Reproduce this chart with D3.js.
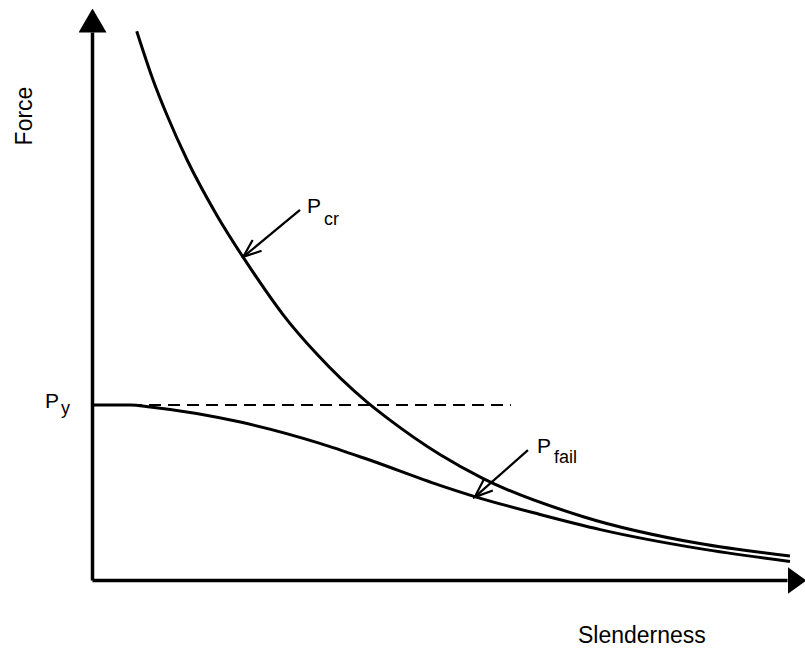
<!DOCTYPE html>
<html lang="en">

<head>
  <meta charset="utf-8">
  <title>Force vs slenderness</title>
  <script src="https://d3js.org/d3.v7.min.js"></script>
  <style>
    body {
      margin: 0;
      background: #fff;
    }

    .curve {
      fill: none;
      stroke: #000;
      stroke-width: 3px;
    }

    .squash {
      fill: none;
      stroke: #000;
      stroke-width: 2px;
      stroke-dasharray: 12 7;
    }

    .pointer {
      fill: none;
      stroke: #000;
      stroke-width: 2.2px;
    }

    .axis .domain {
      stroke: #000;
      stroke-width: 3.5px;
    }

    text {
      font-family: "Liberation Sans", Arial, sans-serif;
      fill: #000;
    }
  </style>
</head>

<body>

  <script type="text/javascript">
  var width = 805;
  var height = 648;

  // slenderness (arbitrary units) and force
  var crSlender = [0.63, 0.86, 1.06, 1.34, 1.76, 2.23, 2.69, 3.17, 3.87, 4.16, 4.90, 5.51, 6.92, 8.56, 9.83];
  var crForce   = [9.80, 8.93, 8.29, 7.50, 6.51, 5.57, 4.74, 4.03, 3.18, 2.89, 2.24, 1.81, 1.13, 0.65, 0.43];

  var failSlender = [0, 0.54, 0.82, 2.09, 3.21, 3.87, 4.90, 5.39, 6.31, 7.16, 8.56, 9.83];
  var failForce   = [3.125, 3.125, 3.09, 2.82, 2.44, 2.16, 1.69, 1.49, 1.17, 0.90, 0.56, 0.33];

  var squashLoad = 3.125;   // P_y
  var squashEnd = 5.9;      // dashed line stops here

  // annotation pointers: [fromX, fromY, toX, toY]
  var crPointer = [2.93, 6.61, 2.13, 5.77];
  var failPointer = [6.14, 2.32, 5.39, 1.48];

  var x = d3.scaleLinear().domain([0, 10]).range([92, 802]);
  var y = d3.scaleLinear().domain([0, 10]).range([580, 20]);

  var svg = d3.select("body").append("svg")
    .attr("width", width)
    .attr("height", height);

  var defs = svg.append("defs");

  // solid arrowheads for the axes
  defs.append("marker")
    .attr("id", "headX")
    .attr("markerUnits", "userSpaceOnUse")
    .attr("viewBox", "0 -14 19 28")
    .attr("markerWidth", 19)
    .attr("markerHeight", 28)
    .attr("refX", 0).attr("refY", 0)
    .attr("orient", "auto")
    .append("path")
    .attr("d", "M0,-13.5L19,0L0,13.5Z")
    .attr("fill", "#000");

  defs.append("marker")
    .attr("id", "headY")
    .attr("markerUnits", "userSpaceOnUse")
    .attr("viewBox", "0 -14 24 28")
    .attr("markerWidth", 24)
    .attr("markerHeight", 28)
    .attr("refX", 0).attr("refY", 0)
    .attr("orient", "auto")
    .append("path")
    .attr("d", "M0,-14L24,0L0,14Z")
    .attr("fill", "#000");

  // open chevron for the label pointers
  defs.append("marker")
    .attr("id", "chevron")
    .attr("markerUnits", "userSpaceOnUse")
    .attr("viewBox", "-20 -10 22 20")
    .attr("markerWidth", 22)
    .attr("markerHeight", 20)
    .attr("refX", 0).attr("refY", 0)
    .attr("orient", "auto")
    .append("path")
    .attr("d", "M-18,-7L0,0L-18,7")
    .attr("fill", "none")
    .attr("stroke", "#000")
    .attr("stroke-width", 2.2);

  // axes: no ticks, just the spines with arrows
  var xAxisScale = x.copy().range([92, 787]);
  var yAxisScale = y.copy().range([580, 32]);

  svg.append("g")
    .attr("class", "axis")
    .attr("transform", "translate(0," + y(0) + ")")
    .call(d3.axisBottom(xAxisScale).tickValues([]).tickSizeOuter(0))
    .select(".domain")
    .attr("marker-end", "url(#headX)");

  svg.append("g")
    .attr("class", "axis")
    .attr("transform", "translate(" + x(0) + ",0)")
    .call(d3.axisLeft(yAxisScale).tickValues([]).tickSizeOuter(0))
    .select(".domain")
    .attr("marker-end", "url(#headY)");

  var line = d3.line()
    .x(function(d) { return x(d[0]); })
    .y(function(d) { return y(d[1]); })
    .curve(d3.curveMonotoneX);

  // dashed squash load line
  svg.append("path")
    .attr("class", "squash")
    .attr("d", line([[0, squashLoad], [squashEnd, squashLoad]]));

  svg.append("path")
    .attr("class", "curve")
    .attr("d", line(d3.zip(crSlender, crForce)));

  svg.append("path")
    .attr("class", "curve")
    .attr("d", line(d3.zip(failSlender, failForce)));

  [crPointer, failPointer].forEach(function(p) {
    svg.append("line")
      .attr("class", "pointer")
      .attr("x1", x(p[0])).attr("y1", y(p[1]))
      .attr("x2", x(p[2])).attr("y2", y(p[3]))
      .attr("marker-end", "url(#chevron)");
  });

  // labels with subscripts
  function subLabel(px, py, main, sub, dx, dy) {
    var t = svg.append("text")
      .attr("x", px)
      .attr("y", py)
      .style("font-size", "21px");
    t.append("tspan").text(main);
    t.append("tspan")
      .attr("dx", dx)
      .attr("dy", dy)
      .style("font-size", "18px")
      .text(sub);
  }

  subLabel(45, 408, "P", "y", 2, 6);
  subLabel(307, 213, "P", "cr", 3, 12);
  subLabel(537, 453, "P", "fail", 3, 10);

  svg.append("text")
    .attr("transform", "translate(32,116) rotate(-90)")
    .attr("text-anchor", "middle")
    .style("font-size", "23px")
    .text("Force");

  svg.append("text")
    .attr("x", 578)
    .attr("y", 643)
    .style("font-size", "23px")
    .text("Slenderness");
  </script>
</body>

</html>
